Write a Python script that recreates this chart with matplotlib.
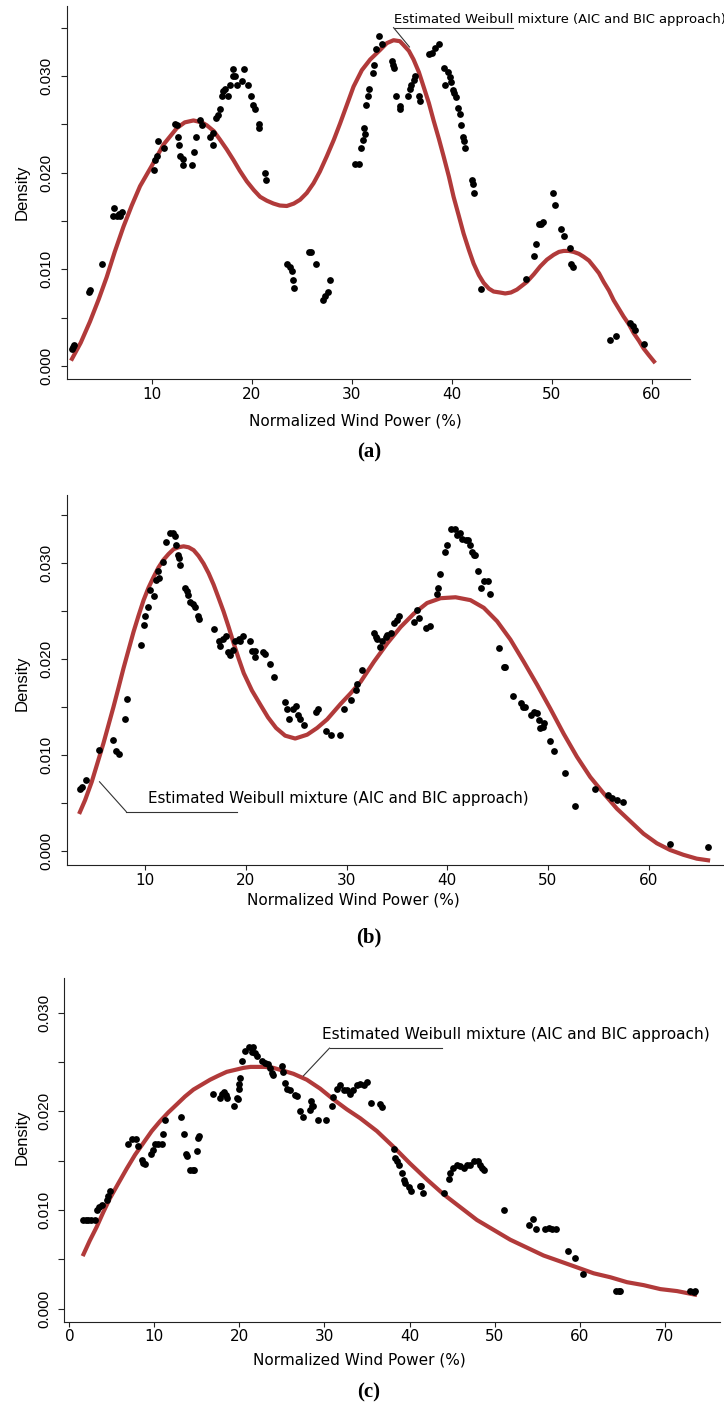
import matplotlib.pyplot as plt

W, H = 724, 1407
CURVE_COLOR = '#b13a3a'
NOTE = "Estimated Weibull mixture (AIC and BIC approach)"

# ---- panel (a) ----
a_pts_x = [2.0, 2.1, 2.25, 3.75, 3.8, 5.07,
           6.1, 6.23, 6.5, 6.8, 7.0, 6.7,
           10.23, 10.3, 10.5, 10.67, 11.2,
           12.3, 12.5, 12.67, 12.77, 12.83, 13.1, 13.17,
           14.0, 14.23, 14.43, 14.83, 15.0,
           15.83, 16.1, 16.17, 16.4, 16.67, 16.83,
           17.0, 17.1, 17.33, 17.67, 17.83,
           18.1, 18.17, 18.33, 18.5, 19.0, 19.23, 19.67, 19.9, 20.17, 20.33, 20.73, 20.77,
           21.33, 21.4,
           23.5, 23.77, 24.0, 24.1, 24.23,
           25.7, 25.9, 26.43,
           27.1, 27.33, 27.57, 27.77,
           30.33, 30.67, 30.9, 31.1, 31.23, 31.3, 31.43, 31.57, 31.7,
           32.1, 32.23, 32.43, 32.67, 33.0,
           34.0, 34.1, 34.17, 34.43, 34.77, 34.83,
           35.57, 35.77, 35.9, 36.17, 36.33, 36.67, 36.77,
           37.67, 38.0, 38.33, 38.67,
           39.17, 39.33, 39.57, 39.77, 39.9, 40.1, 40.23, 40.4,
           40.57, 40.77, 40.93, 41.1, 41.23, 41.33,
           42.0, 42.1, 42.17, 42.93,
           47.43, 48.17, 48.43, 48.67, 48.9, 49.1,
           50.1, 50.33, 50.9, 51.17, 51.77, 51.9, 52.1,
           55.83, 56.43, 57.77, 58.1, 58.33, 59.17]
a_pts_y = [0.0018, 0.0020, 0.0022, 0.0076, 0.0079, 0.0105,
           0.0155, 0.0163, 0.0155, 0.0155, 0.0159, 0.0157,
           0.0203, 0.0213, 0.0217, 0.0233, 0.0225,
           0.0250, 0.0249, 0.0237, 0.0229, 0.0217, 0.0214, 0.0208,
           0.0208, 0.0221, 0.0237, 0.0254, 0.0249,
           0.0237, 0.0229, 0.0241, 0.0257, 0.0260, 0.0266,
           0.0279, 0.0284, 0.0287, 0.0279, 0.0291,
           0.0300, 0.0307, 0.0300, 0.0291, 0.0295, 0.0307, 0.0291, 0.0279, 0.0270, 0.0266, 0.0250, 0.0246,
           0.0200, 0.0192,
           0.0105, 0.0102, 0.0098, 0.0089, 0.0081,
           0.0118, 0.0118, 0.0105,
           0.0068, 0.0072, 0.0076, 0.0089,
           0.0209, 0.0209, 0.0225, 0.0234, 0.0246, 0.0240, 0.0270, 0.0279, 0.0287,
           0.0303, 0.0311, 0.0328, 0.0341, 0.0333,
           0.0316, 0.0311, 0.0308, 0.0279, 0.0269, 0.0266,
           0.0279, 0.0287, 0.0291, 0.0296, 0.0300, 0.0279, 0.0274,
           0.0323, 0.0324, 0.0329, 0.0333,
           0.0308, 0.0291, 0.0304, 0.0299, 0.0294, 0.0286, 0.0282, 0.0278,
           0.0267, 0.0261, 0.0249, 0.0237, 0.0233, 0.0225,
           0.0192, 0.0188, 0.0179, 0.0080,
           0.0090, 0.0114, 0.0126, 0.0147, 0.0147, 0.0149,
           0.0179, 0.0167, 0.0142, 0.0134, 0.0122, 0.0106, 0.0102,
           0.0027, 0.0031, 0.0044, 0.0041, 0.0037, 0.0023]
a_curve_x = [1.93, 2.9, 3.83, 4.7, 5.5, 6.3, 7.17, 8.0, 8.83, 10.0, 11.17, 12.5, 13.3, 14.17, 15.0, 15.5, 16.2, 16.83,
             17.5, 18.17, 18.8, 19.5, 20.2, 20.83, 21.5, 22.17, 22.8, 23.5, 24.2, 24.83, 25.5, 26.17, 26.8, 27.5,
             28.2, 28.83, 29.5, 30.17, 31.0, 31.83, 32.83, 33.5, 34.17, 34.8, 35.17, 35.7, 36.17, 36.7, 37.17,
             37.7, 38.17, 38.7, 39.17, 39.7, 40.17, 40.7, 41.17, 41.7, 42.17, 42.7, 43.17, 43.7, 44.17, 44.8,
             45.33, 45.9, 46.5, 47.5, 48.2, 48.83, 49.5, 50.17, 50.7, 51.17, 51.7, 52.17, 52.7, 53.17, 53.7,
             54.17, 54.7, 55.17, 55.7, 56.17, 56.7, 57.17, 57.7, 58.17, 58.7, 59.17, 59.7, 60.33]
a_curve_y = [0.00055, 0.0024, 0.0046, 0.0069, 0.0092, 0.0118, 0.0144, 0.0166, 0.0186, 0.0207, 0.0229, 0.0246, 0.0252,
             0.0254, 0.0252, 0.0249, 0.0243, 0.0234,
             0.0224, 0.0213, 0.0202, 0.0191, 0.0182, 0.0175, 0.0171, 0.0168, 0.0166, 0.01655, 0.0168, 0.0172,
             0.0179, 0.0189, 0.0201, 0.0217, 0.0234, 0.0251, 0.0270, 0.0289, 0.0306, 0.0317,
             0.0327, 0.0334, 0.0337, 0.0336, 0.0332, 0.0326, 0.0317, 0.0304, 0.0289,
             0.0272, 0.0254, 0.0235, 0.0217, 0.0196, 0.0175, 0.0155, 0.0137, 0.0120, 0.0106, 0.0094, 0.0086,
             0.0080, 0.0077, 0.0076,
             0.0075, 0.0076, 0.0079, 0.0087, 0.0095, 0.0103, 0.0110, 0.0115, 0.0118, 0.0119, 0.0119, 0.0118,
             0.0116, 0.0113, 0.0109,
             0.0103, 0.0096, 0.0087, 0.0078, 0.0068, 0.0059, 0.0051, 0.0043, 0.0034, 0.0026, 0.0018, 0.0011, 0.0003]

# ---- panel (b) ----
b_pts_x = [3.53, 3.7, 4.1, 5.45, 6.78, 7.1, 7.35, 8.0, 8.24,
           9.57, 9.83, 10.0, 10.23, 10.5, 10.83, 11.1, 11.23, 11.4, 11.76,
           12.1, 12.49, 12.75, 12.98, 13.08, 13.3, 13.4, 13.48,
           13.98, 14.15, 14.3, 14.48, 14.74, 14.97, 15.2, 15.3,
           16.87, 17.3, 17.47, 17.73, 18.06, 18.19, 18.46, 18.72, 18.96, 19.29, 19.45, 19.72,
           20.38, 20.61, 20.94, 20.9, 21.7, 21.94, 22.37, 22.84,
           23.93, 24.1, 24.26, 24.7, 25.0, 25.16, 25.36, 25.76,
           27.0, 27.15, 28.0, 28.47, 29.4,
           29.74, 30.4, 30.9, 31.06, 31.56,
           32.73, 32.9, 33.06, 33.32, 33.55, 33.88, 34.05, 34.38,
           34.71, 34.98, 35.2, 36.69, 36.96, 37.19, 37.85, 38.28,
           39.0, 39.07, 39.27, 39.74, 40.0,
           40.33, 40.73, 40.99, 41.32, 41.49, 41.82, 42.05, 42.25, 42.48, 42.64, 42.8,
           43.07, 43.37, 43.7, 44.03, 44.3,
           45.12, 45.62, 45.79, 46.55, 47.34, 47.54, 47.77,
           48.33, 48.6, 48.93, 49.09, 49.26, 49.52, 49.65,
           50.25, 50.64, 51.67, 52.66, 54.71,
           55.93, 56.36, 56.86, 57.45, 62.15, 65.95]
b_pts_y = [0.0064, 0.0067, 0.0074, 0.0105, 0.0115, 0.0104, 0.0101, 0.0137, 0.0158,
           0.0214, 0.0235, 0.0244, 0.0254, 0.0272, 0.0265, 0.0282, 0.0291, 0.0284, 0.0301,
           0.0321, 0.0331, 0.0331, 0.0328, 0.0318, 0.0308, 0.0305, 0.0298,
           0.0274, 0.0270, 0.0266, 0.0259, 0.0257, 0.0254, 0.0244, 0.0241,
           0.0231, 0.0218, 0.0213, 0.0221, 0.0224, 0.0207, 0.0204, 0.0209, 0.0218, 0.0221, 0.0218, 0.0224,
           0.0218, 0.0208, 0.0202, 0.0208, 0.0207, 0.0205, 0.0195, 0.0181,
           0.0155, 0.0148, 0.0137, 0.0148, 0.0151, 0.0142, 0.0137, 0.0131,
           0.0145, 0.0148, 0.0125, 0.0121, 0.0121,
           0.0148, 0.0157, 0.0168, 0.0174, 0.0188,
           0.0227, 0.0223, 0.0221, 0.0212, 0.0218, 0.0223, 0.0225, 0.0227,
           0.0237, 0.0240, 0.0245, 0.0238, 0.0251, 0.0242, 0.0232, 0.0234,
           0.0267, 0.0274, 0.0288, 0.0311, 0.0318,
           0.0335, 0.0335, 0.0329, 0.0331, 0.0325, 0.0324, 0.0324, 0.0318, 0.0311, 0.0308, 0.0308,
           0.0291, 0.0274, 0.0281, 0.0281, 0.0267,
           0.0211, 0.0191, 0.0191, 0.0161, 0.0154, 0.0150, 0.0150,
           0.0141, 0.0145, 0.0144, 0.0136, 0.0128, 0.0129, 0.0133,
           0.0114, 0.0104, 0.0081, 0.0047, 0.0064,
           0.0058, 0.0055, 0.0053, 0.0051, 0.0007, 0.0004]
b_curve_x = [3.43, 4.03, 4.69, 5.27, 5.85, 6.35, 6.85, 7.35, 7.84, 8.34, 8.84, 9.34, 9.84, 10.33, 10.83,
             11.32, 11.82, 12.32, 12.82, 13.31, 13.81, 14.31, 14.81, 15.3, 15.8, 16.3, 16.8, 17.3, 17.79,
             18.29, 18.79, 19.29, 19.79, 20.6, 21.45, 22.2, 23.0, 23.9, 24.9, 26.09, 27.08,
             28.08, 29.41, 30.4, 31.4, 32.73, 34.05, 35.37, 36.69, 38.0, 39.34, 40.83,
             42.31, 43.64, 44.96, 46.28, 47.6, 48.93, 50.25, 51.57, 52.89, 54.21, 55.54,
             56.86, 58.18, 59.5, 60.83, 62.15, 63.47, 64.79, 66.12]
b_curve_y = [0.00385, 0.0053, 0.0072, 0.0092, 0.0112, 0.0131, 0.0150, 0.0170, 0.0190, 0.0209, 0.0228, 0.0245,
             0.0261, 0.0274, 0.0285, 0.0295, 0.0303, 0.0309, 0.0314, 0.0316, 0.0317, 0.0316, 0.0313, 0.0307,
             0.0299, 0.0289, 0.0277, 0.0263, 0.0249, 0.0233, 0.0216, 0.0200, 0.0185, 0.0167, 0.0152,
             0.0139, 0.0128, 0.0120, 0.0117, 0.0121, 0.0128,
             0.0137, 0.0153, 0.0164, 0.0176, 0.0197, 0.0216, 0.0233, 0.0247, 0.0258, 0.0263, 0.0264,
             0.0261, 0.0253, 0.0239, 0.0220, 0.0197, 0.0173, 0.0148, 0.0122, 0.0098, 0.0077, 0.0060,
             0.0044, 0.0031, 0.0018, 0.0008, 0.0001, -0.0004, -0.0008, -0.0010]

# ---- panel (c) ----
c_pts_x = [1.65, 1.96, 2.24, 2.51, 3.02, 3.29, 3.53, 3.8, 4.39, 4.59, 4.78,
           6.94, 7.33, 7.84, 8.12, 8.51, 8.71, 8.9,
           9.61, 9.88, 10.08, 10.47, 10.86, 10.98, 11.25,
           13.1, 13.49, 13.73, 13.8, 14.2, 14.5, 14.65, 14.98, 15.18, 15.3,
           16.94, 17.73, 17.92, 18.2, 18.43, 18.59,
           19.41, 19.69, 19.8, 20.0, 20.0, 20.08,
           20.35, 20.67, 21.18, 21.45, 21.65, 21.84, 22.12,
           22.63, 23.02, 23.41, 23.61, 23.8, 24.0,
           24.98, 25.18, 25.37, 25.57, 25.96, 26.55, 26.75,
           27.14, 27.53, 28.24, 28.4, 28.51, 28.7,
           29.29, 30.2, 30.86, 30.98, 31.45, 31.84, 32.24, 32.63, 33.02, 33.41, 33.8, 34.2, 34.59, 34.98,
           35.5, 36.47, 36.75,
           38.12, 38.31, 38.51, 38.71, 39.1, 39.29, 39.49, 39.88, 40.16,
           41.18, 41.37, 41.57, 44.0,
           44.59, 44.78, 45.1, 45.57, 45.96, 46.35, 46.75, 47.14, 47.61, 48.0, 48.31, 48.51, 48.78,
           51.06, 54.0, 54.51, 54.86, 55.88, 56.35, 56.75, 57.22,
           58.63, 59.41, 60.39, 64.31, 64.59, 64.78, 73.0, 73.41, 73.6]
c_pts_y = [0.0090, 0.0090, 0.0090, 0.0090, 0.0090, 0.0100, 0.0103, 0.0105, 0.0110, 0.0114, 0.0119,
           0.0167, 0.0172, 0.0172, 0.0165, 0.0151, 0.0148, 0.0147,
           0.0157, 0.0161, 0.0167, 0.0167, 0.0167, 0.0177, 0.0191,
           0.0194, 0.0177, 0.0157, 0.0155, 0.0141, 0.0141, 0.0141, 0.0160, 0.0173, 0.0175,
           0.0218, 0.0213, 0.0218, 0.0220, 0.0217, 0.0213,
           0.0205, 0.0214, 0.0212, 0.0223, 0.0228, 0.0234,
           0.0251, 0.0261, 0.0265, 0.0260, 0.0265, 0.0259, 0.0256,
           0.0251, 0.0249, 0.0248, 0.0244, 0.0239, 0.0237,
           0.0246, 0.0240, 0.0229, 0.0223, 0.0222, 0.0217, 0.0216,
           0.0200, 0.0194, 0.0201, 0.0210, 0.0205, 0.0205,
           0.0191, 0.0191, 0.0205, 0.0215, 0.0223, 0.0227, 0.0222, 0.0222, 0.0218, 0.0222, 0.0227, 0.0228, 0.0227, 0.0230,
           0.0208, 0.0207, 0.0204,
           0.0162, 0.0153, 0.0150, 0.0146, 0.0138, 0.0130, 0.0127, 0.0123, 0.0119,
           0.0124, 0.0124, 0.0117, 0.0117,
           0.0131, 0.0138, 0.0143, 0.0146, 0.0145, 0.0143, 0.0146, 0.0146, 0.0150, 0.0150, 0.0146, 0.0143, 0.0141,
           0.0100, 0.0085, 0.0091, 0.0081, 0.0081, 0.0082, 0.0081, 0.0081,
           0.0059, 0.0052, 0.0035, 0.0018, 0.0018, 0.0018, 0.0018, 0.0017, 0.0018]
c_curve_x = [1.57, 2.4, 3.22, 4.0, 4.78, 5.76, 6.75, 7.73, 8.71, 9.69, 10.67, 11.65, 12.63, 13.6, 14.59,
             15.57, 16.55, 17.5, 18.51, 19.5, 20.47, 21.3, 22.04, 23.0, 24.0, 25.2, 26.35, 27.92,
             29.49, 31.06, 32.63, 34.2, 36.16, 38.12, 40.08, 42.04, 44.0, 45.96, 47.92, 49.88,
             51.84, 53.8, 55.76, 57.73, 59.69, 61.65, 63.61, 65.57, 67.53, 69.49, 71.45, 73.8]
c_curve_y = [0.00534, 0.0069, 0.0083, 0.0098, 0.0112, 0.0127, 0.0142, 0.0156, 0.0168, 0.0180, 0.0190, 0.0199,
             0.0207, 0.0215, 0.0222, 0.0227, 0.0232, 0.0236, 0.0240, 0.0242, 0.0244, 0.0245, 0.0245,
             0.0245, 0.0244, 0.0241, 0.0238, 0.0232,
             0.0223, 0.0212, 0.0202, 0.0193, 0.0180, 0.0164, 0.0147, 0.0131, 0.0116, 0.0103, 0.0090, 0.0080,
             0.0070, 0.0062, 0.0054, 0.0048, 0.0042, 0.0036, 0.0032, 0.0027, 0.0024, 0.0020, 0.0018, 0.0014]


def px_rect(x0, y0, x1, y1):
    # pixel box (top-left origin) -> figure fraction rect
    return [x0 / W, 1 - y1 / H, (x1 - x0) / W, (y1 - y0) / H]


def fig_text(fig, x, y, s, **kw):
    fig.text(x / W, 1 - y / H, s, **kw)


def draw_panel(ax, px, py, cx, cy, xlim, ylim, xticks, ymax_tick):
    ax.plot(cx, cy, color=CURVE_COLOR, lw=3.0, solid_capstyle='butt',
            solid_joinstyle='round', zorder=2)
    ax.scatter(px, py, s=24, color='black', linewidths=0, zorder=3)
    ax.set_xlim(*xlim)
    ax.set_ylim(*ylim)
    for side in ('top', 'right'):
        ax.spines[side].set_visible(False)
    for side in ('left', 'bottom'):
        ax.spines[side].set_linewidth(0.8)
        ax.spines[side].set_color('#222222')
    ax.set_xticks(xticks)
    ax.set_xticklabels([str(t) for t in xticks], fontsize=11, family='DejaVu Sans')
    yt = [i * 0.005 for i in range(int(round(ymax_tick / 0.005)) + 1)]
    ax.set_yticks(yt)
    ax.set_yticklabels([f'{t:.3f}' if i % 2 == 0 else '' for i, t in enumerate(yt)],
                       fontsize=11, family='Liberation Sans', rotation=90, va='center')
    ax.tick_params(axis='y', length=4.5, width=0.8, pad=5, color='#222222')
    ax.tick_params(axis='x', length=3.5, width=0.8, pad=2, color='#222222')
    ax.patch.set_alpha(0)


def annotate(ax, tx, ty, ux0, ux1, uy, lx, ly, size):
    ax.text(tx, ty, NOTE, fontsize=size, family='DejaVu Sans', ha='left', va='baseline')
    ax.plot([ux0, ux1], [uy, uy], color='#333333', lw=0.8, clip_on=False)
    ax.plot([ux0, lx], [uy, ly], color='#333333', lw=0.8, clip_on=False)


fig = plt.figure(figsize=(W / 100, H / 100), dpi=100)

ax_a = fig.add_axes(px_rect(66.7, 6, 690, 379.3))
draw_panel(ax_a, a_pts_x, a_pts_y, a_curve_x, a_curve_y,
           (1.5, 63.8), (-0.00138, 0.03724), [10, 20, 30, 40, 50, 60], 0.035)
annotate(ax_a, 34.17, 0.0355, 34.17, 46.1, 0.0350, 35.76, 0.0330, 9.45)

ax_b = fig.add_axes(px_rect(66.7, 495, 724, 865))
draw_panel(ax_b, b_pts_x, b_pts_y, b_curve_x, b_curve_y,
           (2.2, 67.5), (-0.00146, 0.03704), [10, 20, 30, 40, 50, 60], 0.035)
annotate(ax_b, 10.23, 0.00496, 8.11, 19.12, 0.0041, 5.46, 0.0072, 10.9)

ax_c = fig.add_axes(px_rect(64.3, 978, 720, 1321.7))
draw_panel(ax_c, c_pts_x, c_pts_y, c_curve_x, c_curve_y,
           (-0.59, 76.5), (-0.0013, 0.0335), [0, 10, 20, 30, 40, 50, 60, 70], 0.030)
annotate(ax_c, 29.7, 0.0273, 30.59, 43.8, 0.0264, 27.53, 0.0236, 11.1)

# axis titles and panel tags
for yc in (192, 683, 1137):
    fig_text(fig, 22, yc, 'Density', rotation=90, ha='center', va='center',
             fontsize=12, family='Liberation Sans')
for xc, yc in ((355, 421), (353, 900), (359, 1360)):
    fig_text(fig, xc, yc, 'Normalized Wind Power (%)', ha='center', va='center',
             fontsize=11, family='DejaVu Sans')
for tag, yc in (('(a)', 452), ('(b)', 937), ('(c)', 1392)):
    fig_text(fig, 369, yc, tag, ha='center', va='center', fontsize=15,
             family='Liberation Serif', fontweight='bold')

fig.savefig('out.png', dpi=100)
